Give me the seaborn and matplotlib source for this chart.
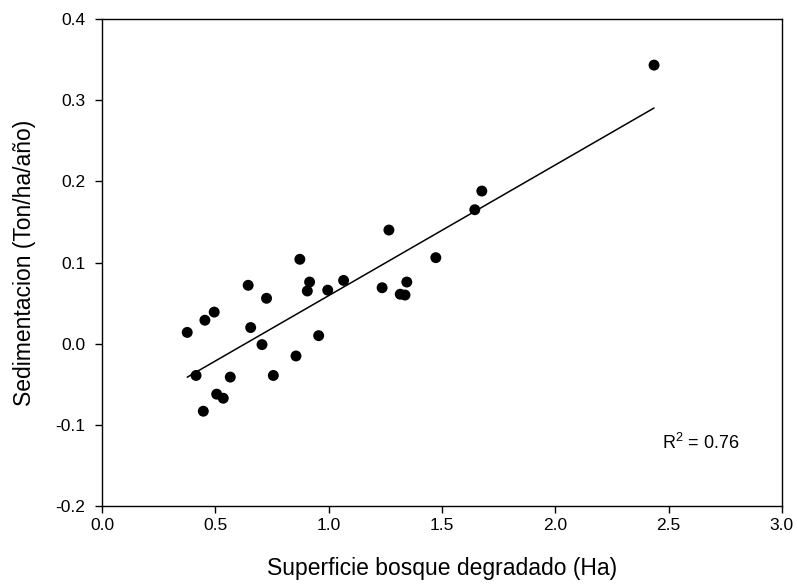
import matplotlib
matplotlib.use("Agg")
import matplotlib.pyplot as plt
import seaborn as sns
import pandas as pd

# Superficie de bosque degradado (Ha) y sedimentacion (Ton/ha/año)
superficie = [0.376, 0.454, 0.495, 0.645, 0.726, 0.656, 0.706, 0.415, 0.566,
              0.756, 0.506, 0.535, 0.447, 0.873, 0.916, 0.906, 0.996, 1.066,
              1.236, 1.345, 1.316, 1.337, 1.473, 0.956, 0.856, 1.676, 1.645,
              1.266, 2.436]
sedimentacion = [0.014, 0.029, 0.039, 0.072, 0.056, 0.020, -0.001, -0.039, -0.041,
                 -0.039, -0.062, -0.067, -0.083, 0.104, 0.076, 0.065, 0.066, 0.078,
                 0.069, 0.076, 0.061, 0.060, 0.106, 0.010, -0.015, 0.188, 0.165,
                 0.140, 0.343]
x_ticks = [0.0, 0.5, 1.0, 1.5, 2.0, 2.5, 3.0]
y_ticks = [-0.2, -0.1, 0.0, 0.1, 0.2, 0.3, 0.4]
r2_text = "R$^2$ = 0.76"

df = pd.DataFrame({"superficie": superficie, "sedimentacion": sedimentacion})

sns.set_theme(style="ticks")
plt.rcParams["font.family"] = ["Liberation Sans", "DejaVu Sans"]
plt.rcParams["mathtext.fontset"] = "custom"
plt.rcParams["mathtext.rm"] = "Liberation Sans"
plt.rcParams["text.color"] = "black"
plt.rcParams["axes.labelcolor"] = "black"

fig = plt.figure(figsize=(7.97, 5.88), dpi=100)
ax = fig.add_axes([0.128, 0.139, 0.853, 0.829])

sns.regplot(
    data=df, x="superficie", y="sedimentacion", ax=ax, ci=None,
    scatter_kws=dict(s=62, color="black", edgecolors="none", alpha=1),
    line_kws=dict(color="black", lw=1.1),
)

ax.set_xlim(0, 3)
ax.set_ylim(-0.2, 0.4)
ax.set_xticks(x_ticks)
ax.set_yticks(y_ticks)
ax.set_xticklabels([f"{t:.1f}" for t in x_ticks])
ax.set_yticklabels([f"{t:.1f}" for t in y_ticks])
ax.tick_params(direction="out", length=5, width=1, labelsize=12.5, colors="black")
ax.tick_params(axis="y", pad=7)
for s in ax.spines.values():
    s.set_visible(True)
    s.set_linewidth(1)
    s.set_color("black")

ax.set_xlabel("Superficie bosque degradado (Ha)", fontsize=16.5, labelpad=17)
ax.set_ylabel("Sedimentacion (Ton/ha/año)", fontsize=16.5, labelpad=14)

ax.text(2.47, -0.122, r2_text, fontsize=13, va="center", ha="left")

plt.savefig("out.png", dpi=100)
